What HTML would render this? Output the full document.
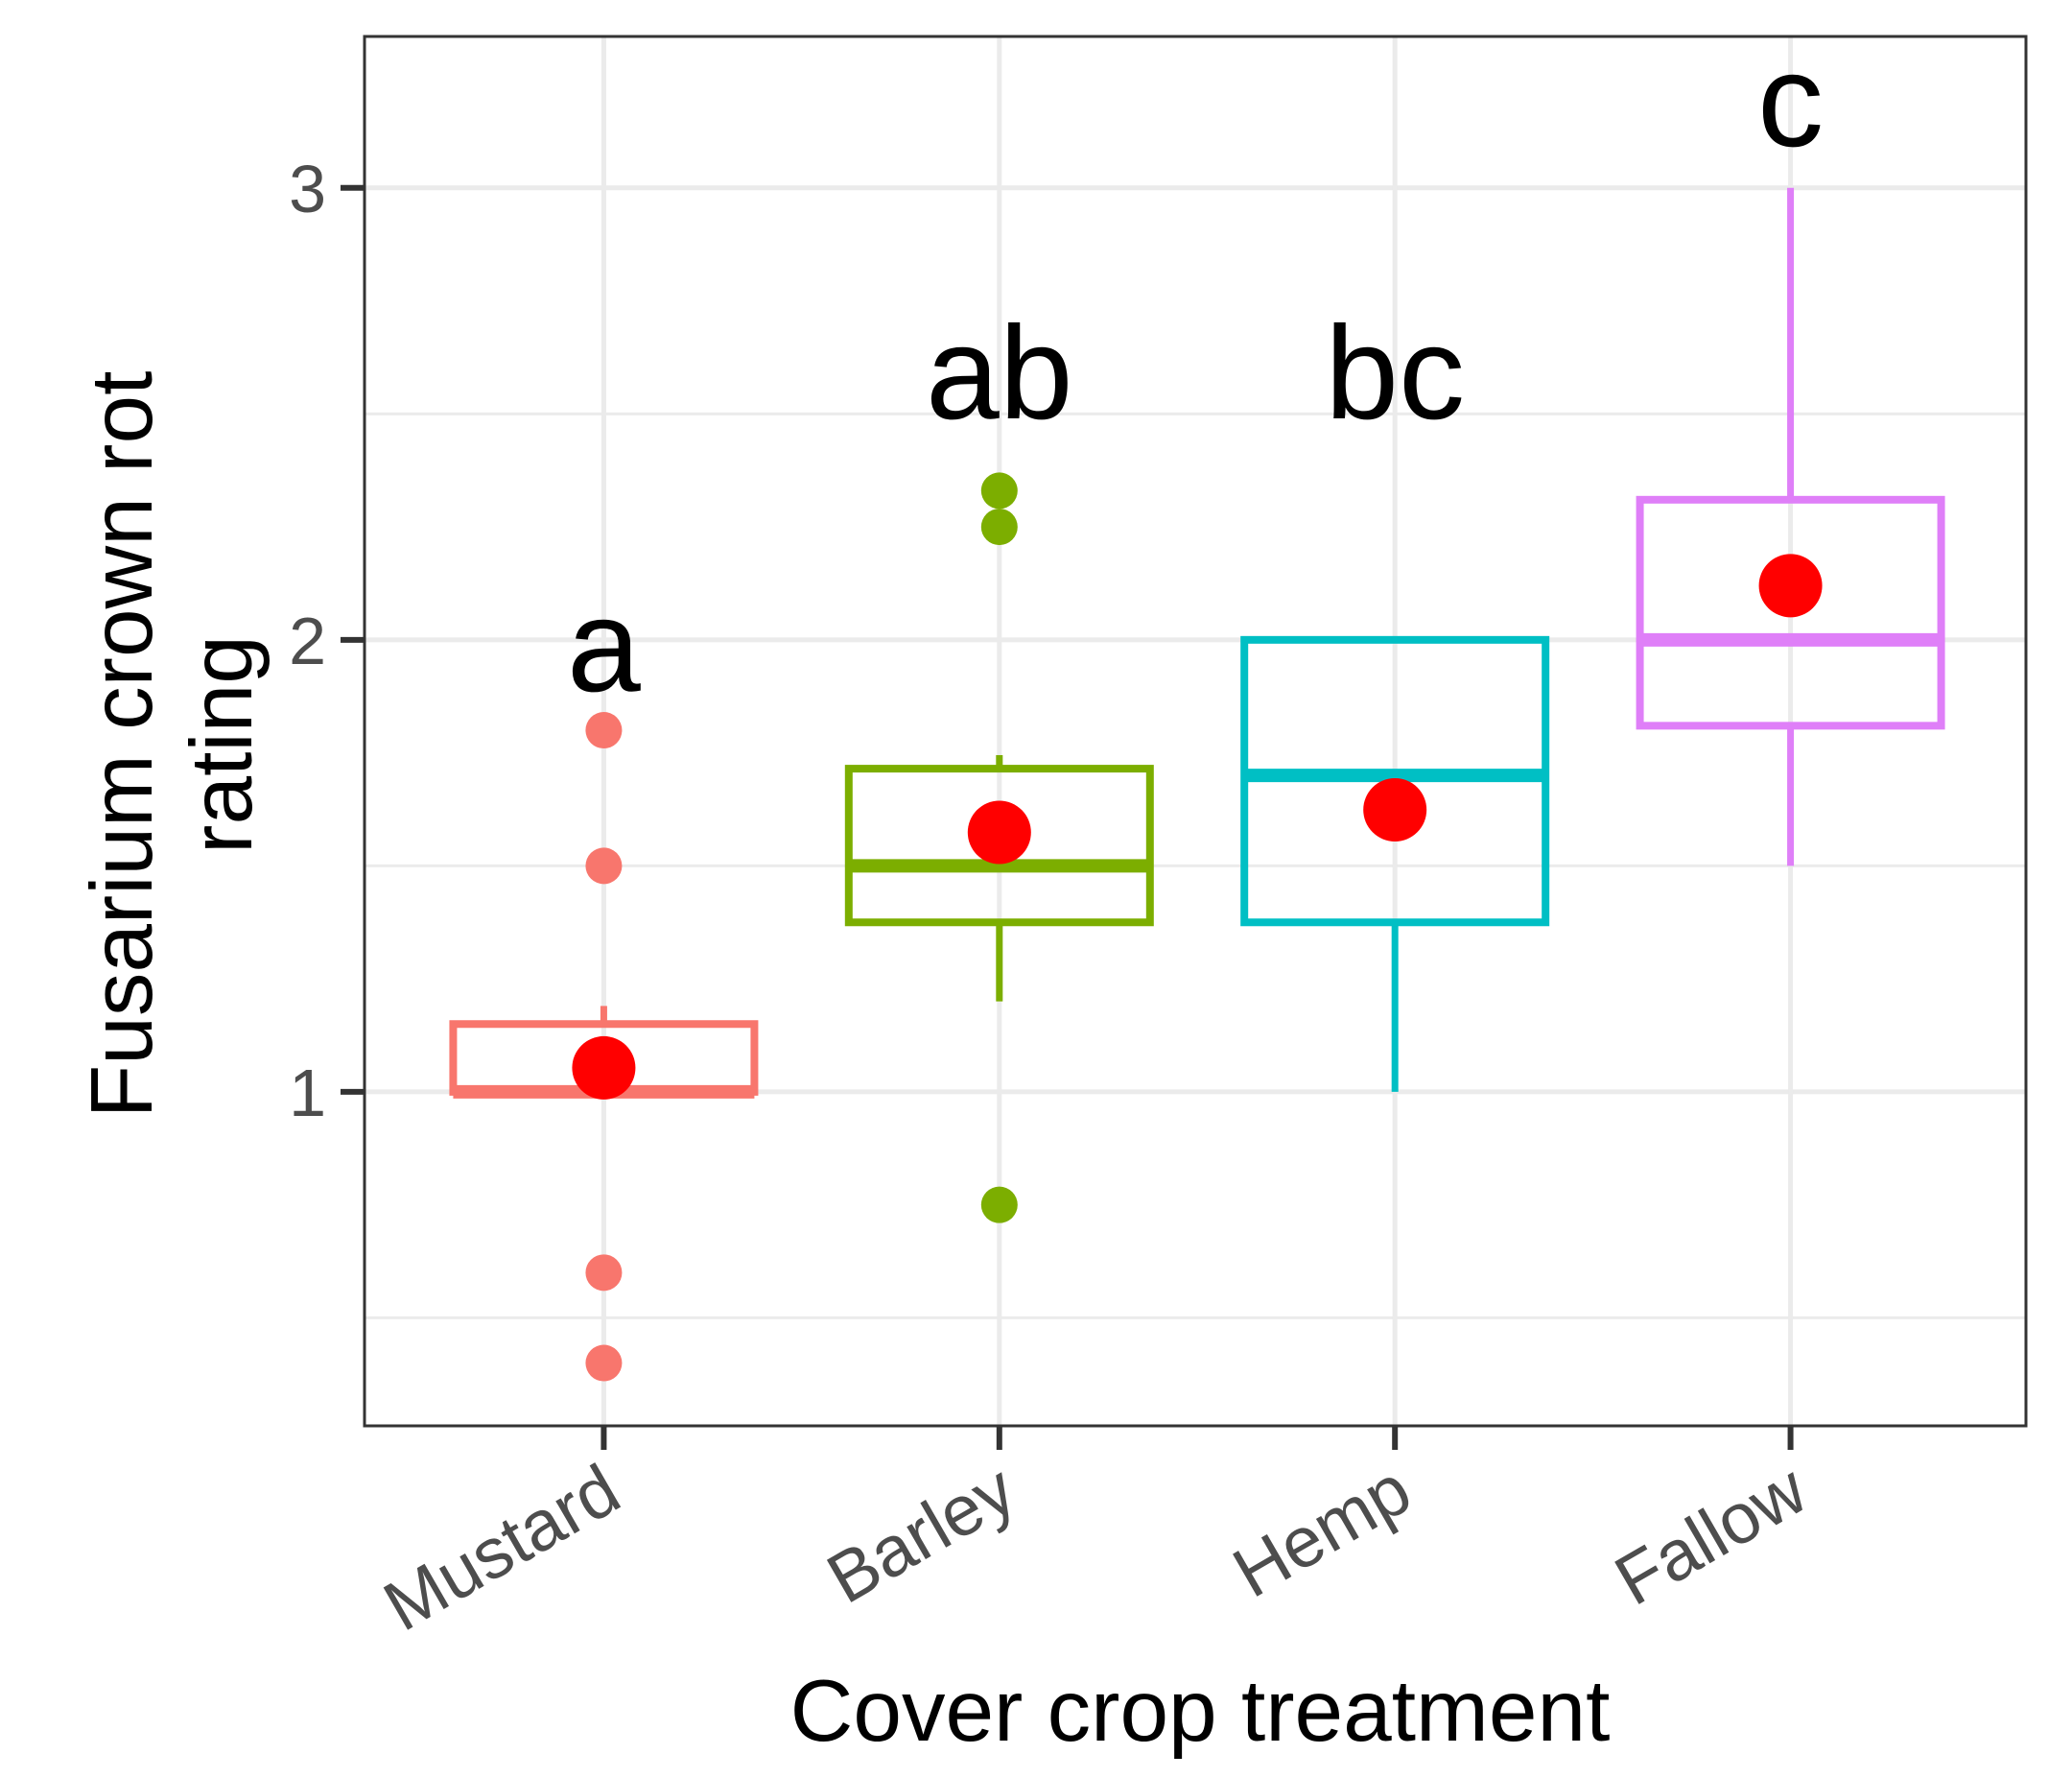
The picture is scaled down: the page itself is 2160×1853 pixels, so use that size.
<!DOCTYPE html>
<html><head><meta charset="utf-8"><style>
html,body{margin:0;padding:0;background:#fff;}
svg{display:block;font-family:"Liberation Sans",Arial,sans-serif;}
</style></head><body>
<svg id="chart" width="2160" height="1853" viewBox="0 0 2160 1853" xmlns="http://www.w3.org/2000/svg"></svg>
<script>
const categories = ["Mustard","Barley","Hemp","Fallow"];
const colors = ["#F8766D","#7CAE00","#00BFC4","#DF7FF8"];
const q1 = [1.0, 1.375, 1.375, 1.81];
const medians = [1.0, 1.5, 1.7, 2.0];
const q3 = [1.15, 1.715, 2.0, 2.31];
const whiskerLow = [1.0, 1.2, 1.0, 1.5];
const whiskerHigh = [1.19, 1.745, 2.0, 3.0];
const means = [1.053, 1.574, 1.624, 2.12];
const outliers = [[1.8,1.5,0.6,0.4],[2.33,2.25,0.75],[],[]];
const letters = ["a","ab","bc","c"];
const letterY = [1.887, 2.49, 2.49, 3.093];
const yTicks = [1,2,3];
const yMinor = [0.5,1.5,2.5];

const svg = document.getElementById('chart');
const NS = "http://www.w3.org/2000/svg";
const L=380, R=2112, T=38, B=1486;
const yMin=0.261, yMax=3.335;
const y = v => B - (v - yMin)/(yMax - yMin)*(B - T);
const step = (R-L)/(categories.length + 0.2);
const x = i => L + step*(i+0.6) + 2;
const halfW = 157;
function mk(tag, attrs, parent){const e=document.createElementNS(NS,tag);for(const k in attrs)e.setAttribute(k,attrs[k]);(parent||svg).appendChild(e);return e;}

const grid = mk('g',{});


yMinor.forEach(v=>{ if(v>yMin&&v<yMax){const l=mk('line',{x1:L,x2:R,y1:y(v),y2:y(v),stroke:'#ebebeb','stroke-width':3},grid);

}});
yTicks.forEach(v=>{const l=mk('line',{x1:L,x2:R,y1:y(v),y2:y(v),stroke:'#ebebeb','stroke-width':5},grid);

});
categories.forEach((c,i)=>{const l=mk('line',{x1:x(i),x2:x(i),y1:T,y2:B,stroke:'#ebebeb','stroke-width':5},grid);

});

categories.forEach((c,i)=>{
  const g=mk('g',{});
  
  
  const col=colors[i];
  const w1=mk('line',{x1:x(i),x2:x(i),y1:y(q3[i]),y2:y(whiskerHigh[i]),stroke:col,'stroke-width':7},g);
  
  
  const w2=mk('line',{x1:x(i),x2:x(i),y1:y(q1[i]),y2:y(whiskerLow[i]),stroke:col,'stroke-width':7},g);
  
  
  const r=mk('rect',{x:x(i)-halfW,y:y(q3[i]),width:2*halfW,height:y(q1[i])-y(q3[i]),fill:'none',stroke:col,'stroke-width':8},g);
  
  
  const m=mk('line',{x1:x(i)-halfW,x2:x(i)+halfW,y1:y(medians[i]),y2:y(medians[i]),stroke:col,'stroke-width':14},g);
  
  
  outliers[i].forEach(v=>{const o=mk('circle',{cx:x(i),cy:y(v),r:19,fill:col},g);
    
    });
  const mn=mk('circle',{cx:x(i),cy:y(means[i]),r:33,fill:'#FF0000'},g);
  
  
  const t=mk('text',{x:x(i),y:y(letterY[i]),'text-anchor':'middle','font-size':138,fill:'#000'},g);
  t.textContent=letters[i];
  
  
});

const frame=mk('rect',{x:L,y:T,width:R-L,height:B-T,fill:'none',stroke:'#333','stroke-width':3});



yTicks.forEach(v=>{
  const tk=mk('line',{x1:L-25,x2:L,y1:y(v),y2:y(v),stroke:'#333','stroke-width':6});
  
  
  const t=mk('text',{x:L-40,y:y(v)+25,'text-anchor':'end','font-size':70,fill:'#4d4d4d'});
  t.textContent=String(v);
  
  
});
categories.forEach((c,i)=>{
  const tk=mk('line',{x1:x(i),x2:x(i),y1:B,y2:B+25,stroke:'#333','stroke-width':6});
  
  
  const ax=x(i)+22, ay=B+82;
  const t=mk('text',{x:ax,y:ay,'text-anchor':'end','font-size':74,fill:'#4d4d4d',transform:`rotate(-30 ${ax} ${ay})`});
  t.textContent=c;
  
  
});

const xt=mk('text',{x:1251,y:1814,'text-anchor':'middle','font-size':91,fill:'#000'});
xt.textContent='Cover crop treatment';


const yt=mk('text',{x:0,y:0,'text-anchor':'middle','font-size':91,fill:'#000',transform:'translate(176,776) rotate(-90)'});


const s1=mk('tspan',{x:0,dy:-18},yt); s1.textContent='Fusarium crown rot';
const s2=mk('tspan',{x:0,dy:104},yt); s2.textContent='rating';
</script>
</body></html>
